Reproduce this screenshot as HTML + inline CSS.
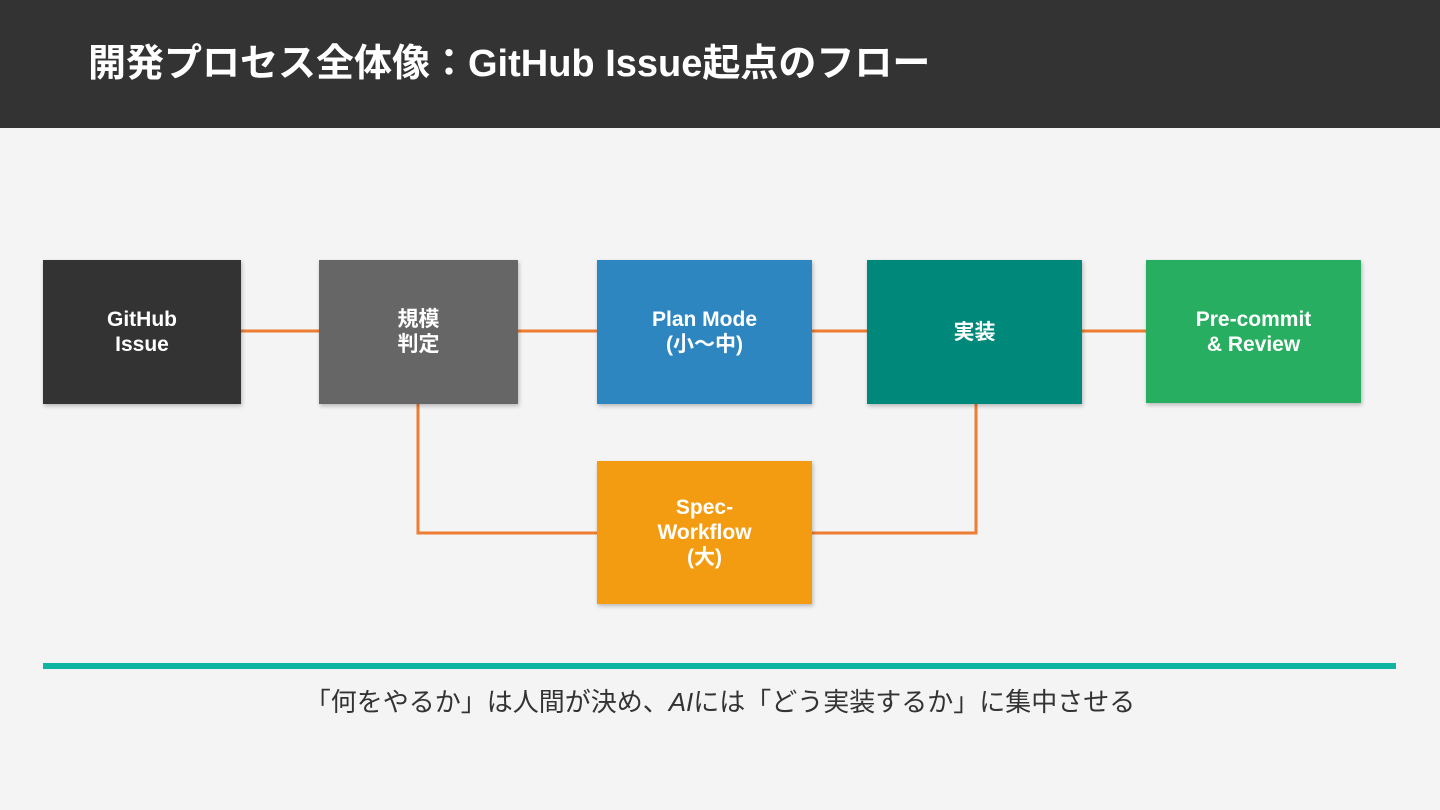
<!DOCTYPE html>
<html><head><meta charset="utf-8"><style>
body{margin:0;width:1440px;height:810px;background:#f4f4f4;position:relative;overflow:hidden;font-family:"Liberation Sans","Noto Sans CJK JP",sans-serif}
.hdr{position:absolute;left:0;top:0;width:1440px;height:128px;background:#333}
.hdr div{position:absolute;left:88px;top:38px;color:#fff;font-weight:bold;font-size:38px;line-height:52px;white-space:nowrap}
.b{position:absolute;display:flex;align-items:center;justify-content:center;text-align:center;color:#fff;font-weight:bold;font-size:21px;line-height:25px;box-shadow:1px 2px 4px rgba(0,0,0,.25)}
.cap{position:absolute;left:0;width:1440px;top:684px;text-align:center;font-size:26px;color:#333;line-height:36px}
</style></head><body>
<div class="hdr"><div>開発プロセス全体像：GitHub Issue起点のフロー</div></div>
<svg width="1440" height="810" style="position:absolute;left:0;top:0">
<g stroke="#ed7d31" stroke-width="3" fill="none">
<line x1="241" y1="331" x2="319" y2="331"/>
<line x1="518" y1="331" x2="597" y2="331"/>
<line x1="812" y1="331" x2="867" y2="331"/>
<line x1="1082" y1="331" x2="1146" y2="331"/>
<polyline points="418,404 418,533 597,533"/>
<polyline points="812,533 976,533 976,404"/>
</g>
<rect x="43" y="663" width="1353" height="6" fill="#0fb5a0"/>
</svg>
<div class="b" style="left:43px;top:260px;width:198px;height:144px;background:#333">GitHub<br>Issue</div>
<div class="b" style="left:319px;top:260px;width:199px;height:144px;background:#666">規模<br>判定</div>
<div class="b" style="left:597px;top:260px;width:215px;height:144px;background:#2e86c1">Plan Mode<br>(小〜中)</div>
<div class="b" style="left:867px;top:260px;width:215px;height:144px;background:#00897b">実装</div>
<div class="b" style="left:1146px;top:260px;width:215px;height:143px;background:#27ae60">Pre-commit<br>&amp; Review</div>
<div class="b" style="left:597px;top:461px;width:215px;height:143px;background:#f39c12">Spec-<br>Workflow<br>(大)</div>
<div class="cap">「何をやるか」は人間が決め、<i>AI</i>には「どう実装するか」に集中させる</div>
</body></html>
